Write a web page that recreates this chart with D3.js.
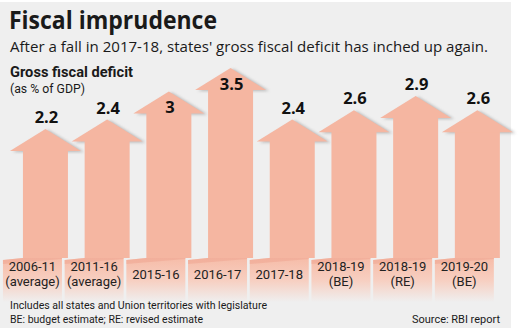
<!DOCTYPE html>
<html><head><meta charset="utf-8">
<script src="https://cdn.jsdelivr.net/npm/d3@7"></script>
<style>html,body{margin:0;padding:0;background:#fff;}svg{display:block;}</style>
</head><body>
<script>
const categories = ["2006-11\n(average)", "2011-16\n(average)", "2015-16", "2016-17", "2017-18", "2018-19\n(BE)", "2018-19\n(RE)", "2019-20\n(BE)"];
const values = [2.2, 2.4, 3, 3.5, 2.4, 2.6, 2.9, 2.6];
const valueLabels = ["2.2", "2.4", "3", "3.5", "2.4", "2.6", "2.9", "2.6"];
const title = "Fiscal imprudence";
const subtitle = "After a fall in 2017-18, states' gross fiscal deficit has inched up again.";
const chartTitle = "Gross fiscal deficit";
const unitLabel = "(as % of GDP)";
const notes = ["Includes all states and Union territories with legislature", "BE: budget estimate; RE: revised estimate"];
const source = "Source: RBI report";

const W = 520, H = 331;
const svg = d3.select("body").append("svg").attr("width", W).attr("height", H);
const defs = svg.append("defs");
defs.append("filter").attr("id", "blur").attr("x", "-20%").attr("y", "-20%").attr("width", "140%").attr("height", "140%")
  .append("feGaussianBlur").attr("stdDeviation", 1.6);
const grad = defs.append("linearGradient").attr("id", "boxg").attr("x1", 0).attr("y1", 0).attr("x2", 0).attr("y2", 1);
grad.append("stop").attr("offset", "0%").attr("stop-color", "#f6b9a4");
grad.append("stop").attr("offset", "55%").attr("stop-color", "#f7cfc1");
grad.append("stop").attr("offset", "100%").attr("stop-color", "#efefef");

svg.append("rect").attr("x", 0).attr("y", 2).attr("width", 511).attr("height", 326).attr("fill", "#efefef");

const font = "'Open Sans', sans-serif";
const font2 = "Roboto, sans-serif";
function txt(s, x, y, size, weight, len, anchor, fam) {
  const t = svg.append("text").attr("x", x).attr("y", y).attr("font-family", fam || font)
    .attr("font-size", size).attr("font-weight", weight).attr("fill", "#1a1a1a")
    .attr("text-anchor", anchor || "start").text(s);
  if (len) t.attr("textLength", len).attr("lengthAdjust", "spacingAndGlyphs");
  return t;
}
txt(title, 9, 29, 25, 700, 208);
txt(subtitle, 10, 52, 14.5, 400, 478);
txt(chartTitle, 10, 76.5, 15.5, 700, 123, null, font2);
txt(unitLabel, 10, 92.5, 12.5, 400, 75, null, font2);

const x = d3.scaleBand().domain(categories).range([14.6, 508.2]).padding(0);
const y = d3.scaleLinear().domain([0, 3.5]).range([232, 68]);
const headH = 22, headHalf = 35.5, shaftHalf = 22.5;
const shaftBottom = 258, boxTop = 258, boxBottom = 302;

const g = svg.append("g");
const cols = g.selectAll("g.col").data(categories.map((c, i) => ({c, v: values[i], lab: valueLabels[i]})))
  .enter().append("g").attr("class", "col");

// label boxes
cols.each(function(d) {
  const cx = x(d.c) + x.bandwidth() / 2;
  const L = cx - 42.5, R = cx + 16.5;
  const sel = d3.select(this);
  sel.append("path").attr("d", `M${L},${boxTop + 2}L${R},${boxTop - 4}L${R},${boxBottom}L${L},${boxBottom}Z`)
    .attr("fill", "url(#boxg)");
  sel.append("path").attr("d", `M${L},${boxTop + 2}L${R},${boxTop - 4}L${R},${boxTop + 1}L${L},${boxTop + 6}Z`)
    .attr("fill", "#eea08c").attr("opacity", 0.45);
  const lines = d.c.split("\n");
  const tc = (L + R) / 2;
  if (lines.length === 2) {
    txt(lines[0], tc, 271, 13, 400, null, "middle", font2).attr("fill", "#222");
    txt(lines[1], tc, 286, 13, 400, null, "middle", font2).attr("fill", "#222");
  } else {
    txt(lines[0], tc, 279, 13, 400, null, "middle", font2).attr("fill", "#222");
  }
});

// arrows
cols.each(function(d) {
  const cx = x(d.c) + x.bandwidth() / 2;
  const tip = y(d.v), base = tip + headH;
  const sel = d3.select(this);
  const head = `M${cx},${tip}L${cx + headHalf},${base}L${cx - headHalf},${base}Z`;
  sel.append("path").attr("d", head).attr("transform", "translate(3,1)").attr("fill", "#8a8a8a")
    .attr("opacity", 0.55).attr("filter", "url(#blur)");
  sel.append("rect").attr("x", cx - shaftHalf).attr("y", base - 1).attr("width", shaftHalf * 2)
    .attr("height", shaftBottom - base + 1).attr("fill", "#f5b6a1");
  sel.append("path").attr("d", head).attr("fill", "#f5b6a1");
  const inside = d.v >= 3;
  txt(d.lab, cx + 1, inside ? base + 0 : tip - 6, 16.5, 700, null, "middle").attr("fill", "#111");
});

txt(notes[0], 10, 309, 11.5, 400, 257, null, font2);
txt(notes[1], 10, 322.5, 11.5, 400, 193, null, font2);
txt(source, 500, 322.5, 11.5, 400, 88, "end", font2);
</script>
</body></html>
